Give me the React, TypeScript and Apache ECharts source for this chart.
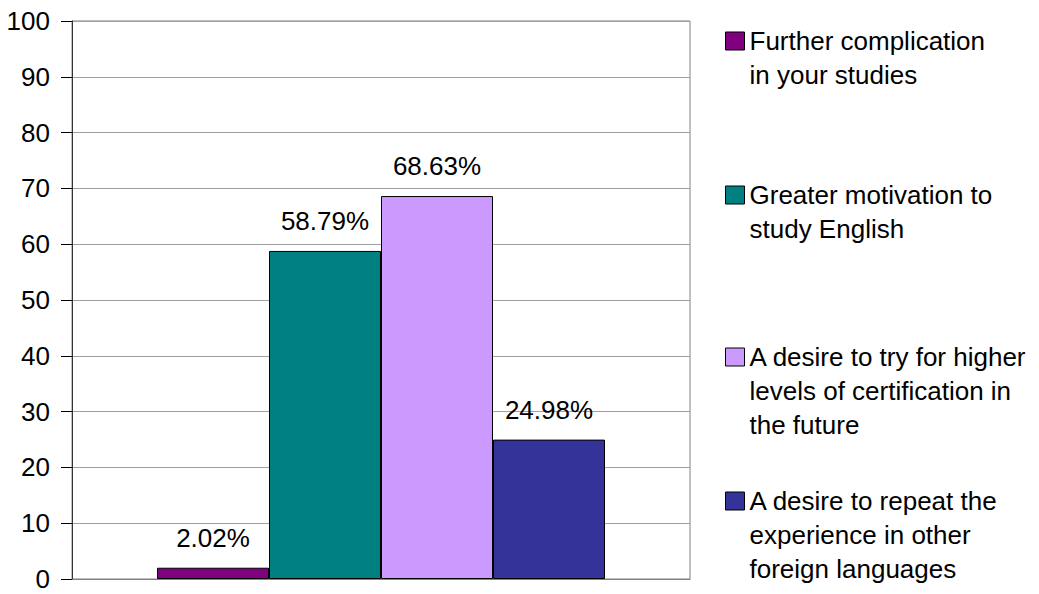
import React, { useEffect, useRef } from "react";
import * as echarts from "echarts";

const seriesNames = [
  "Further complication\nin your studies",
  "Greater motivation to\nstudy English",
  "A desire to try for higher\nlevels of certification in\nthe future",
  "A desire to repeat the\nexperience in other\nforeign languages",
];
const seriesValues = [2.02, 58.79, 68.63, 24.98];
const seriesColors = ["#800080", "#008080", "#CC99FF", "#333399"];
const legendIconCenters = [41, 195, 357, 501];
const yTicks = { min: 0, max: 100, interval: 10 };
const categories = [""];

const FONT = "'Liberation Sans', Arial, sans-serif";
const LINE_H = 34;

export default function App() {
  const ref = useRef<HTMLDivElement>(null);
  useEffect(() => {
    if (!ref.current) return;
    const chart = echarts.init(ref.current, undefined, { renderer: "svg" });
    const series = seriesNames.map((name, i) => ({
      name,
      type: "bar",
      data: [seriesValues[i]],
      barWidth: 112,
      barGap: "0%",
      itemStyle: { color: seriesColors[i], borderColor: "#000", borderWidth: 1 },
      label: {
        show: true,
        position: "top",
        distance: 17,
        formatter: (p: any) => p.value.toFixed(2) + "%",
        fontSize: 26,
        fontFamily: FONT,
        color: "#000",
      },
    }));
    const legends = seriesNames.map((name, i) => {
      const lines = name.split("\n").length;
      return {
        data: [name],
        left: 725,
        top: legendIconCenters[i] - (2 * lines - 1) * (LINE_H / 2),
        padding: 0,
        orient: "vertical",
        icon: "rect",
        itemWidth: 19,
        itemHeight: 18,
        itemGap: 0,
        selectedMode: false,
        formatter: (n: string) => "\n".repeat(lines - 1) + n,
        itemStyle: { borderColor: "#000", borderWidth: 1 },
        textStyle: {
          fontSize: 26,
          fontFamily: FONT,
          color: "#000",
          lineHeight: LINE_H,
        },
      };
    });
    chart.setOption({
      animation: false,
      backgroundColor: "#fff",
      grid: {
        left: 72,
        right: 349,
        top: 21,
        bottom: 15,
        show: true,
        borderColor: "#808080",
        borderWidth: 1,
        backgroundColor: "#fff",
      },
      legend: legends,
      xAxis: {
        type: "category",
        data: categories,
        axisLine: { show: true, lineStyle: { color: "#808080", width: 1 } },
        axisTick: { show: false },
        axisLabel: { show: false },
      },
      yAxis: {
        type: "value",
        min: yTicks.min,
        max: yTicks.max,
        interval: yTicks.interval,
        axisLine: { show: true, lineStyle: { color: "#333", width: 1 } },
        axisTick: { show: true, length: 11, lineStyle: { color: "#000" } },
        splitLine: { show: true, lineStyle: { color: "#a0a0a0", width: 1 } },
        axisLabel: { fontSize: 26, fontFamily: FONT, color: "#000", margin: 22 },
      },
      series,
    });
    return () => chart.dispose();
  }, []);
  return (
    <div
      ref={ref}
      style={{ position: "absolute", left: 0, top: 0, width: 1039, height: 594 }}
    />
  );
}
